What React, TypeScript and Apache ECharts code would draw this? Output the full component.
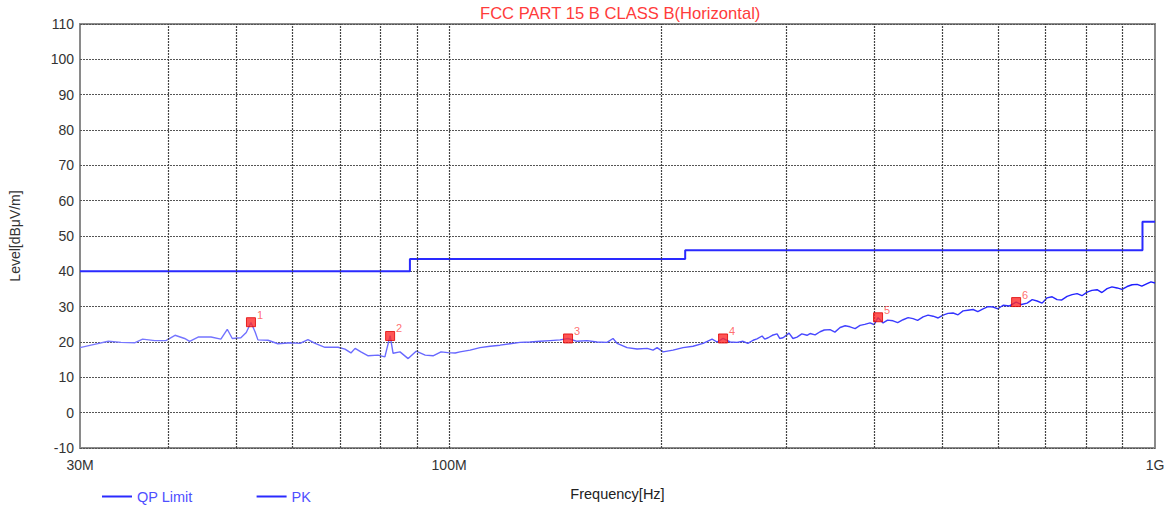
import React, { useEffect, useRef } from "react";
import * as echarts from "echarts";

const titleText = "FCC PART 15 B CLASS B(Horizontal)";
const gridFreqs = [40, 50, 60, 70, 80, 90, 100, 200, 300, 400, 500, 600, 700, 800, 900];

const limitFreqs = [30, 88, 88, 216, 216, 960, 960, 1000];
const limitLevels = [40, 40, 43.5, 43.5, 46, 46, 54, 54];

const pkFreqs = [
  30, 31.1, 32.9, 34.3, 35.9, 36.8, 38.3, 39.7, 40.9, 42.2, 42.9, 44.1, 46.0, 47.5, 48.5, 49.3,
  50.7, 51.6, 52.4, 53.1, 53.6, 55.4, 57.2, 59.7, 61.5, 63.1, 64.6, 66.7, 69.6, 71.2, 72.6, 73.6,
  75.0, 76.8, 79.3, 81.1, 82.5, 83.3, 85.2, 87.5, 89.8, 92.5, 94.9, 97.4, 99.6, 102, 103.6, 107.1,
  110.6, 114.3, 118.1, 122.0, 126.0, 130.2, 134.5, 139.0, 143.6, 147.4, 151.8, 156.8, 162.0, 167.4,
  170.7, 173.0, 178.7, 184.6, 190.8, 194.5, 197.1, 201.0, 207.6, 214.5, 221.6, 229.0, 235.8, 239.7,
  244.4, 250.1, 255.8, 260.9, 265, 269.6, 273, 277.6, 280, 283.1, 287, 291.5, 294, 297.2, 300,
  303.1, 307, 311.1, 316, 321.4, 324.6, 330, 335.4, 340, 346.5, 352, 358.0, 364, 369.8, 376,
  382.1, 388, 394.8, 400, 405.2, 411.9, 418, 425.5, 432, 439.7, 447, 454.2, 461, 469.3, 477,
  484.9, 493, 501.0, 509, 517.6, 526, 534.7, 543, 552.5, 561, 570.8, 580, 589.7, 599, 609.3,
  622, 635.7, 647, 658.9, 670, 680.7, 692, 703.3, 715, 726.6, 738, 750.7, 763, 775.6, 788,
  801.3, 814, 827.9, 841, 855.3, 869, 883.7, 898, 913.0, 928, 943.3, 958, 974.6, 987, 1000,
];
const pkLevels = [
  18.4, 19.1, 20.2, 19.9, 19.8, 20.8, 20.4, 20.4, 21.9, 21.0, 20.2, 21.4, 21.4, 20.8, 23.6, 21.0,
  21.2, 22.7, 25.5, 22.9, 20.6, 20.5, 19.5, 19.8, 19.6, 20.7, 19.6, 18.5, 18.5, 18.0, 16.9, 18.2,
  17.2, 16.1, 16.3, 15.8, 21.8, 16.8, 17.2, 15.3, 17.4, 16.3, 16.1, 17.2, 17.0, 16.9, 17.2, 17.7,
  18.4, 18.8, 19.1, 19.5, 19.9, 20.0, 20.2, 20.4, 20.6, 21.0, 20.2, 20.4, 20.0, 19.9,
  21.0, 19.6, 18.4, 18.0, 18.2, 17.7, 18.4, 17.2, 17.7, 18.4, 18.8, 19.6, 20.8, 20.0,
  21.0, 20.0, 19.9, 20.2, 19.6, 20.5, 20.9, 21.7, 20.8, 21.2, 21.9, 22.3, 21.0, 21.2, 21.8,
  22.5, 21.0, 21.4, 22.3, 21.9, 22.4, 22.0, 22.9, 23.4, 23.5, 22.8, 24.1, 24.6, 24.3, 23.8,
  24.7, 25.0, 25.4, 24.9, 26.9, 25.4, 26.2, 26.0, 25.5, 26.3, 26.9, 26.6, 26.1, 27.1, 27.6,
  27.3, 26.8, 27.6, 28.1, 28.2, 27.7, 28.8, 29.0, 29.2, 28.6, 29.4, 30.0, 29.9, 29.4, 30.4,
  30.2, 31.3, 30.6, 31.0, 32.0, 31.6, 31.0, 32.5, 32.8, 32.0, 31.9, 32.9, 33.4, 33.7, 33.1,
  34.1, 34.6, 34.8, 34.0, 35.1, 35.6, 35.3, 34.9, 35.7, 36.2, 36.3, 35.8, 36.5, 37.0, 36.7,
];

const markerFreqs = [52.4, 82.5, 147.4, 244.4, 405.2, 635.7];
const markerLevels = [25.6, 21.7, 21.0, 21.0, 27.0, 31.3];
const markerLabels = ["1", "2", "3", "4", "5", "6"];

const FONT = "Liberation Sans, Arial, sans-serif";

export default function App() {
  const ref = useRef<HTMLDivElement>(null);
  useEffect(() => {
    if (!ref.current) return;
    const chart = echarts.init(ref.current, null, { renderer: "svg" });
    chart.setOption({
      animation: false,
      backgroundColor: "#ffffff",
      textStyle: { fontFamily: FONT },
      title: {
        text: titleText,
        left: 475,
        top: 0,
        textStyle: { color: "#ff3b3b", fontSize: 16.6, fontWeight: "normal", fontFamily: FONT },
      },
      legend: {
        left: 97,
        top: 484,
        itemWidth: 30,
        itemHeight: 2,
        itemGap: 64,
        icon: "rect",
        textStyle: { color: "#4f4fff", fontSize: 14.5, fontFamily: FONT },
        data: [
          { name: "QP Limit", itemStyle: { color: "#2a2aff" } },
          { name: "PK", itemStyle: { color: "#2a2aff" } },
        ],
      },
      grid: {
        left: 80,
        right: 19,
        top: 24,
        bottom: 56,
        show: true,
        borderColor: "#8a8a8a",
        borderWidth: 2,
      },
      xAxis: {
        type: "log",
        logBase: 10,
        min: 30,
        max: 1000,
        name: "Frequency[Hz]",
        nameLocation: "middle",
        nameGap: 38,
        nameTextStyle: { color: "#222", fontSize: 14.5, fontFamily: FONT },
        axisLine: { show: false },
        axisTick: { show: false },
        splitLine: { show: false },
        axisLabel: {
          color: "#333",
          fontSize: 14,
          margin: 10,
          fontFamily: FONT,
          showMinLabel: true,
          showMaxLabel: true,
          formatter: (v: number) => {
            const r = Math.round(v);
            if (r === 1000) return "1G";
            if (r === 30 || r === 100) return r + "M";
            return "";
          },
        },
      },
      yAxis: {
        type: "value",
        min: -10,
        max: 110,
        interval: 10,
        name: "Level[dBμV/m]",
        nameLocation: "middle",
        nameGap: 58,
        nameTextStyle: { color: "#333", fontSize: 14, fontFamily: FONT },
        axisLine: { show: false },
        axisTick: { show: false },
        axisLabel: { color: "#333", fontSize: 14, margin: 6, fontFamily: FONT },
        splitLine: { show: true, lineStyle: { color: "#555", type: [2, 1], width: 1 } },
      },
      series: [
        {
          name: "grid",
          type: "line",
          data: [],
          silent: true,
          markLine: {
            silent: true,
            symbol: ["none", "none"],
            label: { show: false },
            lineStyle: { color: "#444", type: [2, 1], width: 1.2 },
            data: gridFreqs.map((f) => ({ xAxis: f })),
          },
        },
        {
          name: "QP Limit",
          type: "line",
          showSymbol: false,
          symbol: "none",
          color: "#2a2aff",
          lineStyle: { color: "#2a2aff", width: 2 },
          data: limitFreqs.map((f, i) => [f, limitLevels[i]]),
          z: 3,
        },
        {
          name: "PK",
          type: "line",
          showSymbol: false,
          symbol: "none",
          color: "#2a2aff",
          lineStyle: {
            width: 1.4,
            color: new echarts.graphic.LinearGradient(0, 0, 1, 0, [
              { offset: 0, color: "#7a7aff" },
              { offset: 0.55, color: "#5a5aff" },
              { offset: 1, color: "#1a1aff" },
            ]),
          },
          data: pkFreqs.map((f, i) => [f, pkLevels[i]]),
          z: 4,
        },
        {
          name: "markers",
          type: "scatter",
          symbol: "rect",
          symbolSize: 9,
          itemStyle: { color: "#ff2a2a", borderColor: "#e00000", borderWidth: 1 },
          label: {
            show: true,
            position: [11, -8],
            color: "#ff4a4a",
            fontSize: 11,
            fontFamily: FONT,
            formatter: (p: any) => markerLabels[p.dataIndex],
          },
          data: markerFreqs.map((f, i) => [f, markerLevels[i]]),
          z: 5,
        },
      ],
    });
    return () => chart.dispose();
  }, []);
  return (
    <div
      ref={ref}
      style={{ position: "absolute", left: 0, top: 0, width: 1174, height: 506 }}
    />
  );
}
